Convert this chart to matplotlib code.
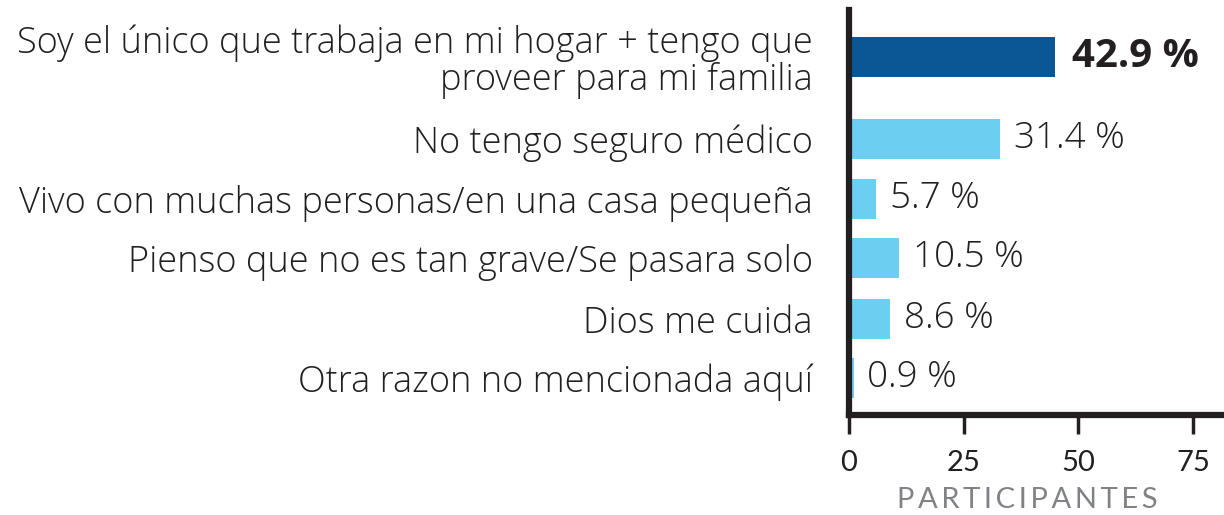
import numpy as np
import matplotlib.pyplot as plt

categories = [
    "Soy el único que trabaja en mi hogar + tengo que\nproveer para mi familia",
    "No tengo seguro médico",
    "Vivo con muchas personas/en una casa pequeña",
    "Pienso que no es tan grave/Se pasara solo",
    "Dios me cuida",
    "Otra razon no mencionada aquí",
]
participants = [45, 33, 6, 11, 9, 1]
pct_labels = ["42.9 %", "31.4 %", "5.7 %", "10.5 %", "8.6 %", "0.9 %"]
xticks = [0, 25, 50, 75]

# first row gets extra room for the two-line label
gaps = [0, 1.37, 1.0, 0.98, 1.02, 0.98]
ypos = np.cumsum(gaps)

dark = "#0b5694"
light = "#6ccff2"
colors = [dark] + [light] * (len(participants) - 1)

plt.rcParams['font.family'] = ['Open Sans', 'DejaVu Sans']

fig = plt.figure(figsize=(12.24, 5.15), dpi=100)
ax = fig.add_axes([0.6936, 0.1942, 0.3064, 0.7864])

ax.barh(ypos, participants, height=0.67, color=colors)
ax.set_xlim(0, 81.8)
ax.set_ylim(5.97, -0.78)

for i in range(len(participants)):
    bold = i == 0
    ax.annotate(pct_labels[i], (participants[i], ypos[i]),
                xytext=(12 if bold else 10, 0),
                textcoords="offset points", va="center", ha="left",
                fontsize=29 if bold else 26.5,
                fontweight="bold" if bold else "light",
                color="#231f20")

ax.set_yticks(ypos)
ax.set_yticklabels(categories, fontsize=26, color="#231f20",
                   fontweight="light", linespacing=1.0)
ax.tick_params(axis="y", length=0, pad=26)

ax.set_xticks(xticks)
ax.set_xticklabels([str(t) for t in xticks], fontsize=21, color="#231f20",
                   family=['Lato', 'DejaVu Sans'])
ax.tick_params(axis="x", length=14, width=2.5, color="#231f20", pad=11)

for side in ["top", "right"]:
    ax.spines[side].set_visible(False)
for side in ["left", "bottom"]:
    ax.spines[side].set_linewidth(4.5)
    ax.spines[side].set_color("#231f20")

ax.set_xlabel("\u2009".join("PARTICIPANTES"), fontsize=21, color="#808285",
              family=['Lato', 'DejaVu Sans'], va="center")
ax.xaxis.set_label_coords(0.475, -0.21)

fig.savefig("out.png", dpi=100)
